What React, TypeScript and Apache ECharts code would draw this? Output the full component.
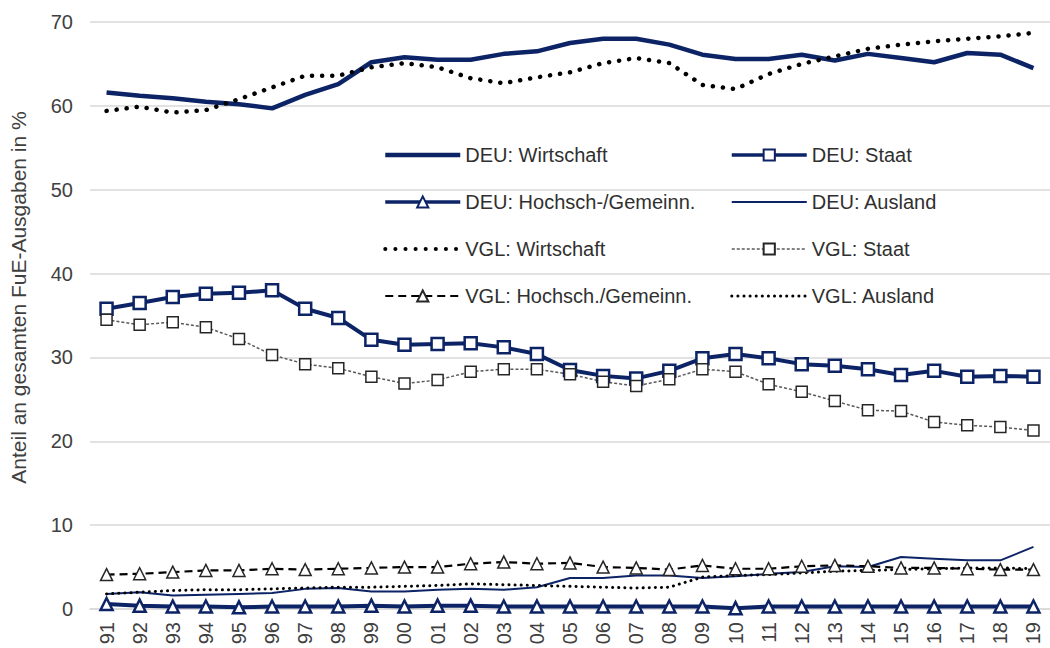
import React, { useEffect, useRef } from "react";
import * as echarts from "echarts";

const years = [
  "1991","1992","1993","1994","1995","1996","1997","1998","1999","2000",
  "2001","2002","2003","2004","2005","2006","2007","2008","2009","2010",
  "2011","2012","2013","2014","2015","2016","2017","2018","2019",
];

const deuWirtschaft = [61.6,61.2,60.9,60.5,60.2,59.7,61.3,62.6,65.2,65.8,65.5,65.5,66.2,66.5,67.5,68.0,68.0,67.3,66.1,65.6,65.6,66.1,65.4,66.2,65.7,65.2,66.3,66.1,64.5];
const deuStaat = [35.8,36.5,37.2,37.6,37.7,38.0,35.8,34.7,32.1,31.5,31.6,31.7,31.2,30.4,28.5,27.8,27.5,28.4,29.9,30.4,29.9,29.2,29.0,28.6,27.9,28.4,27.7,27.8,27.7];
const deuHochsch = [0.6,0.4,0.3,0.3,0.2,0.3,0.3,0.3,0.4,0.3,0.4,0.4,0.3,0.3,0.3,0.3,0.3,0.3,0.3,0.1,0.3,0.3,0.3,0.3,0.3,0.3,0.3,0.3,0.3];
const deuAusland = [1.8,2.0,1.6,1.7,1.8,1.9,2.4,2.5,2.1,2.1,2.3,2.4,2.3,2.6,3.7,3.7,4.0,4.0,3.7,3.9,4.2,4.4,5.1,5.0,6.2,6.0,5.8,5.8,7.4];
const vglWirtschaft = [59.4,59.9,59.2,59.5,60.8,62.2,63.6,63.6,64.6,65.1,64.6,63.3,62.7,63.4,64.0,65.1,65.7,65.1,62.5,62.0,63.8,65.0,65.9,66.8,67.3,67.7,68.0,68.3,68.7];
const vglStaat = [34.5,33.9,34.2,33.6,32.2,30.3,29.2,28.7,27.7,26.9,27.3,28.3,28.6,28.6,28.0,27.1,26.6,27.4,28.6,28.3,26.8,25.9,24.8,23.7,23.6,22.3,21.9,21.7,21.3];
const vglHochsch = [4.1,4.2,4.4,4.6,4.6,4.8,4.7,4.8,4.9,5.0,5.0,5.4,5.6,5.4,5.5,5.0,4.9,4.7,5.2,4.8,4.8,5.1,5.2,5.1,4.9,4.9,4.8,4.7,4.7];
const vglAusland = [1.8,2.0,2.2,2.3,2.3,2.4,2.5,2.6,2.6,2.7,2.8,3.0,2.9,2.8,2.7,2.6,2.5,2.6,3.8,4.0,4.1,4.3,4.5,4.6,4.7,4.8,4.9,4.9,4.8];

const yTicks = { min: 0, max: 70, interval: 10 };
const yTitle = "Anteil an gesamten FuE-Ausgaben in %";

const NAVY = "#0C2366";
const FONT = "Liberation Sans, Arial, sans-serif";

const hidden = { opacity: 0, color: "transparent", borderColor: "transparent", borderWidth: 0 };

export default function App() {
  const ref = useRef<HTMLDivElement>(null);
  useEffect(() => {
    if (!ref.current) return;
    const chart = echarts.init(ref.current, undefined, { renderer: "svg" });
    const legendText = { fontFamily: FONT, fontSize: 20, color: "#303030" };
    const legendBase = {
      orient: "vertical",
      top: 145,
      padding: 0,
      itemWidth: 75,
      itemHeight: 14,
      itemGap: 27,
      textStyle: legendText,
    };
    chart.setOption({
      animation: false,
      backgroundColor: "#ffffff",
      textStyle: { fontFamily: FONT },
      grid: { left: 89, right: 0, top: 22, bottom: 39, containLabel: false },
      legend: [
        {
          ...legendBase,
          left: 383,
          data: [
            { name: "DEU: Wirtschaft", itemStyle: hidden, lineStyle: { width: 4.5 } },
            { name: "DEU: Hochsch-/Gemeinn.", lineStyle: { width: 3.5 } },
            { name: "VGL: Wirtschaft", itemStyle: hidden, lineStyle: { width: 4 } },
            { name: "VGL: Hochsch./Gemeinn.", lineStyle: { width: 2.2 } },
          ],
        },
        {
          ...legendBase,
          left: 730,
          data: [
            { name: "DEU: Staat", lineStyle: { width: 3.5 } },
            { name: "DEU: Ausland", itemStyle: hidden, lineStyle: { width: 2 } },
            { name: "VGL: Staat", lineStyle: { width: 1.5 } },
            { name: "VGL: Ausland", itemStyle: hidden, lineStyle: { width: 3 } },
          ],
        },
      ],
      xAxis: {
        type: "category",
        data: years,
        boundaryGap: true,
        axisLine: { show: true, lineStyle: { color: "#d9d9d9", width: 1.5 } },
        axisTick: { show: false },
        axisLabel: {
          rotate: 90,
          margin: 13,
          fontSize: 20,
          color: "#404040",
          fontFamily: FONT,
          interval: 0,
          formatter: (v: string) => v.slice(2),
        },
      },
      yAxis: {
        type: "value",
        min: yTicks.min,
        max: yTicks.max,
        interval: yTicks.interval,
        name: yTitle,
        nameLocation: "middle",
        nameGap: 61,
        nameTextStyle: { fontSize: 21, color: "#404040", fontFamily: FONT, padding: [0, 0, 0, 36] },
        axisLine: { show: false },
        axisTick: { show: false },
        axisLabel: { margin: 17, fontSize: 20, color: "#404040", fontFamily: FONT },
        splitLine: { lineStyle: { color: "#d9d9d9", width: 1.5 } },
      },
      series: [
        {
          name: "DEU: Wirtschaft",
          type: "line",
          data: deuWirtschaft,
          symbol: "none",
          lineStyle: { color: NAVY, width: 4.5 },
          itemStyle: { color: NAVY },
        },
        {
          name: "DEU: Staat",
          type: "line",
          data: deuStaat,
          symbol: "rect",
          symbolSize: 12,
          showAllSymbol: true,
          lineStyle: { color: NAVY, width: 4 },
          itemStyle: { color: "#ffffff", borderColor: NAVY, borderWidth: 2.5 },
        },
        {
          name: "DEU: Hochsch-/Gemeinn.",
          type: "line",
          data: deuHochsch,
          symbol: "triangle",
          symbolSize: 12,
          showAllSymbol: true,
          lineStyle: { color: NAVY, width: 4 },
          itemStyle: { color: "#ffffff", borderColor: NAVY, borderWidth: 2.5 },
        },
        {
          name: "DEU: Ausland",
          type: "line",
          data: deuAusland,
          symbol: "none",
          lineStyle: { color: NAVY, width: 2 },
          itemStyle: { color: NAVY },
        },
        {
          name: "VGL: Wirtschaft",
          type: "line",
          data: vglWirtschaft,
          symbol: "none",
          lineStyle: { color: "#000000", width: 4.5, type: [0.1, 10], cap: "round" },
          itemStyle: { color: "#000000" },
        },
        {
          name: "VGL: Staat",
          type: "line",
          data: vglStaat,
          symbol: "rect",
          symbolSize: 11,
          showAllSymbol: true,
          lineStyle: { color: "#595959", width: 1.5, type: [3, 2] },
          itemStyle: { color: "#ffffff", borderColor: "#262626", borderWidth: 1.5 },
        },
        {
          name: "VGL: Hochsch./Gemeinn.",
          type: "line",
          data: vglHochsch,
          symbol: "triangle",
          symbolSize: 12,
          showAllSymbol: true,
          lineStyle: { color: "#000000", width: 2.2, type: [8, 5] },
          itemStyle: { color: "#ffffff", borderColor: "#262626", borderWidth: 1.5 },
        },
        {
          name: "VGL: Ausland",
          type: "line",
          data: vglAusland,
          symbol: "none",
          lineStyle: { color: "#000000", width: 3, type: [0.1, 6], cap: "round" },
          itemStyle: { color: "#000000" },
        },
      ],
    });
    return () => chart.dispose();
  }, []);
  return (
    <div
      ref={ref}
      style={{ position: "fixed", left: 0, top: 0, width: 1050, height: 648, background: "#fff" }}
    />
  );
}
